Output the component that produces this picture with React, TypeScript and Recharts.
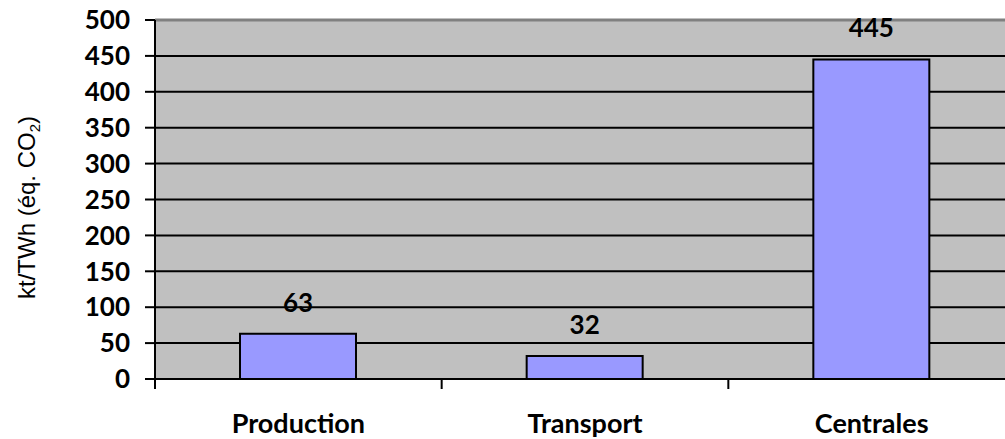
import { BarChart, Bar, XAxis, YAxis, CartesianGrid, ReferenceLine, LabelList, Label } from 'recharts';

const categories = ['Production', 'Transport', 'Centrales'];
const values = [63, 32, 445];
const yTicks = [0, 50, 100, 150, 200, 250, 300, 350, 400, 450, 500];
const gridValues = [50, 100, 150, 200, 250, 300, 350, 400, 450];

const data = categories.map((name, i) => ({ name, value: values[i] }));

const FONT = 'Lato, "Open Sans", sans-serif';
const FONT_SIZE = 26;
const TICK_MARGIN = 35;

// Excel-style category axis: tick marks sit on the band boundaries, not under the labels
function CategoryTick(props: any) {
    const { x, y, payload, index, visibleTicksCount, width } = props;
    const half = payload.offset ?? width / visibleTicksCount / 2;
    const axisY = y - TICK_MARGIN;
    return (
        <g>
            <line x1={x - half} x2={x - half} y1={axisY} y2={axisY + 10} stroke="#000" strokeWidth={2} />
            {index === visibleTicksCount - 1 && (
                <line x1={x + half} x2={x + half} y1={axisY} y2={axisY + 10} stroke="#000" strokeWidth={2} />
            )}
            <text x={x} y={y} dy="0.71em" textAnchor="middle" fontFamily={FONT} fontWeight={700} fontSize={27} fill="#000">
                {payload.value}
            </text>
        </g>
    );
}

function YTitle(props: any) {
    const { viewBox } = props;
    const cx = 35;
    const cy = viewBox.y + viewBox.height / 2 + 8;
    return (
        <text x={cx} y={cy} transform={`rotate(-90, ${cx}, ${cy})`} textAnchor="middle"
            fontFamily='"Liberation Sans", Arial, sans-serif' fontSize={24} fill="#000">
            kt/TWh (éq. CO<tspan fontSize={15} dy={5}>2</tspan><tspan dy={-5}>)</tspan>
        </text>
    );
}

export default function App() {
    return (
        <div style={{ position: 'absolute', left: 0, top: 0, width: 1005, height: 439, overflow: 'hidden', background: '#fff' }}>
            <BarChart width={1015} height={439} data={data} margin={{ top: 20, right: 0, left: 0, bottom: 0 }}>
                <CartesianGrid horizontal vertical={false} fill="#C0C0C0" stroke="#000" strokeWidth={2}
                    horizontalValues={gridValues} />
                <ReferenceLine y={500} stroke="#808080" strokeWidth={3} />
                <XAxis
                    dataKey="name"
                    height={60}
                    tickSize={0}
                    tickMargin={TICK_MARGIN}
                    tickLine={false}
                    axisLine={{ stroke: '#000', strokeWidth: 2 }}
                    tick={<CategoryTick />}
                    interval={0}
                />
                <YAxis
                    width={155}
                    domain={[0, 500]}
                    ticks={yTicks}
                    interval={0}
                    tickSize={10}
                    tickMargin={15}
                    tickLine={{ stroke: '#000', strokeWidth: 2 }}
                    axisLine={{ stroke: '#000', strokeWidth: 2 }}
                    tick={{ fill: '#000', fontFamily: FONT, fontWeight: 700, fontSize: FONT_SIZE }}
                >
                    <Label content={<YTitle />} />
                </YAxis>
                <Bar dataKey="value" fill="#9999FF" stroke="#000" strokeWidth={2} barSize={116} isAnimationActive={false}>
                    <LabelList dataKey="value" position="top" offset={22} fill="#000"
                        style={{ fontFamily: FONT, fontWeight: 700, fontSize: FONT_SIZE }} />
                </Bar>
            </BarChart>
        </div>
    );
}
